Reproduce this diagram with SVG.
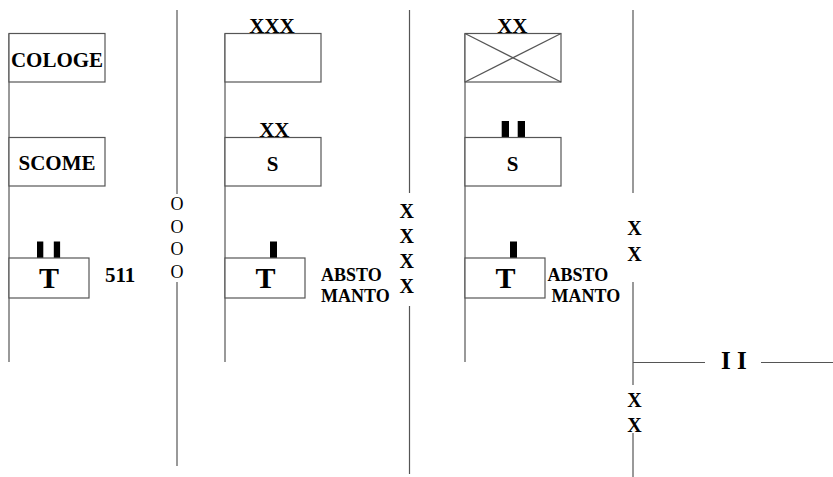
<svg xmlns="http://www.w3.org/2000/svg" width="833" height="477" viewBox="0 0 833 477">
<style>
.ln{stroke:#555;stroke-width:1.2;fill:none}
.bx{stroke:#555;stroke-width:1.2;fill:#fff}
.bar{fill:#000}
text{font-family:"Liberation Serif","Times New Roman",serif;fill:#000}
.b{font-weight:bold}
.lbl{font-weight:bold;font-size:21px}
.sm{font-weight:bold;font-size:18px}
.big{font-weight:bold;font-size:30px}
.o{font-size:18px}
.x{font-weight:bold;font-size:20px}
.mid{text-anchor:middle}
</style>
<rect width="833" height="477" fill="#fff"/>
<g id="connectors">
  <line class="ln" x1="9" y1="33.5" x2="9" y2="362"/>
  <line class="ln" x1="225" y1="33.5" x2="225" y2="362"/>
  <line class="ln" x1="465" y1="33.5" x2="465" y2="362"/>
  <line class="ln" x1="177" y1="10" x2="177" y2="194"/>
  <line class="ln" x1="177" y1="282" x2="177" y2="466"/>
  <line class="ln" x1="409.5" y1="10" x2="409.5" y2="193"/>
  <line class="ln" x1="409.5" y1="306" x2="409.5" y2="474"/>
  <line class="ln" x1="633" y1="10" x2="633" y2="193"/>
  <line class="ln" x1="633" y1="282" x2="633" y2="385"/>
  <line class="ln" x1="633" y1="433" x2="633" y2="477"/>
  <line class="ln" x1="633" y1="362.5" x2="705" y2="362.5"/>
  <line class="ln" x1="761" y1="362.5" x2="833" y2="362.5"/>
</g>
<g id="cologe">
  <rect class="bx" x="9" y="33.5" width="96" height="48.5"/>
  <text class="lbl mid" x="57" y="66.5">COLOGE</text>
</g>
<g id="scome">
  <rect class="bx" x="9" y="137.5" width="96" height="48.5"/>
  <text class="lbl mid" x="57" y="170">SCOME</text>
</g>
<g id="t1">
  <rect class="bar" x="37" y="241.5" width="6.3" height="16.5"/>
  <rect class="bar" x="53.8" y="241.5" width="6.3" height="16.5"/>
  <rect class="bx" x="9" y="258" width="80" height="40"/>
  <text class="big mid" x="49" y="288">T</text>
</g>
<g id="l511">
  <text class="lbl" x="105" y="282">511</text>
</g>
<g id="oooo">
  <text class="o mid" x="177" y="210">O</text>
  <text class="o mid" x="177" y="232.5">O</text>
  <text class="o mid" x="177" y="255">O</text>
  <text class="o mid" x="177" y="277.5">O</text>
</g>
<g id="box2">
  <rect class="bx" x="225" y="33.5" width="96" height="48.5"/>
  <text class="lbl mid" x="272" y="32.5">XXX</text>
</g>
<g id="s2">
  <rect class="bx" x="225" y="137.5" width="96" height="48.5"/>
  <text class="lbl mid" x="274.3" y="136.5">XX</text>
  <text class="lbl mid" x="272.5" y="171">S</text>
</g>
<g id="t2">
  <rect class="bar" x="270" y="241.5" width="7" height="16.5"/>
  <rect class="bx" x="225" y="258" width="80" height="40"/>
  <text class="big mid" x="265.5" y="288">T</text>
</g>
<g id="absto2">
  <text class="sm" x="321" y="280.7">ABSTO</text>
  <text class="sm" x="321" y="301.7">MANTO</text>
</g>
<g id="xxxx">
  <text class="x mid" x="406.7" y="218">X</text>
  <text class="x mid" x="406.7" y="243">X</text>
  <text class="x mid" x="406.7" y="268">X</text>
  <text class="x mid" x="406.7" y="293">X</text>
</g>
<g id="box3">
  <rect class="bx" x="465" y="33.5" width="96" height="48.5"/>
  <line class="ln" x1="465" y1="33.5" x2="561" y2="82"/>
  <line class="ln" x1="465" y1="82" x2="561" y2="33.5"/>
  <text class="lbl mid" x="512.3" y="32.5">XX</text>
</g>
<g id="s3">
  <rect class="bar" x="501.7" y="121" width="7.3" height="16.5"/>
  <rect class="bar" x="517.7" y="121" width="7.3" height="16.5"/>
  <rect class="bx" x="465" y="137.5" width="96" height="48.5"/>
  <text class="lbl mid" x="512.5" y="171">S</text>
</g>
<g id="t3">
  <rect class="bar" x="510" y="241.5" width="7" height="16.5"/>
  <rect class="bx" x="465" y="258" width="80" height="40"/>
  <text class="big mid" x="505.5" y="288">T</text>
</g>
<g id="absto3">
  <text class="sm" x="547.5" y="280.7">ABSTO</text>
  <text class="sm" x="551.5" y="301.7">MANTO</text>
</g>
<g id="xx4">
  <text class="x mid" x="634.5" y="235">X</text>
  <text class="x mid" x="634.5" y="261">X</text>
  <text class="x mid" x="634.5" y="406.7">X</text>
  <text class="x mid" x="634.5" y="431.7">X</text>
</g>
<g id="ii">
  <text class="b" x="721" y="369" font-size="25">I I</text>
</g>
</svg>
